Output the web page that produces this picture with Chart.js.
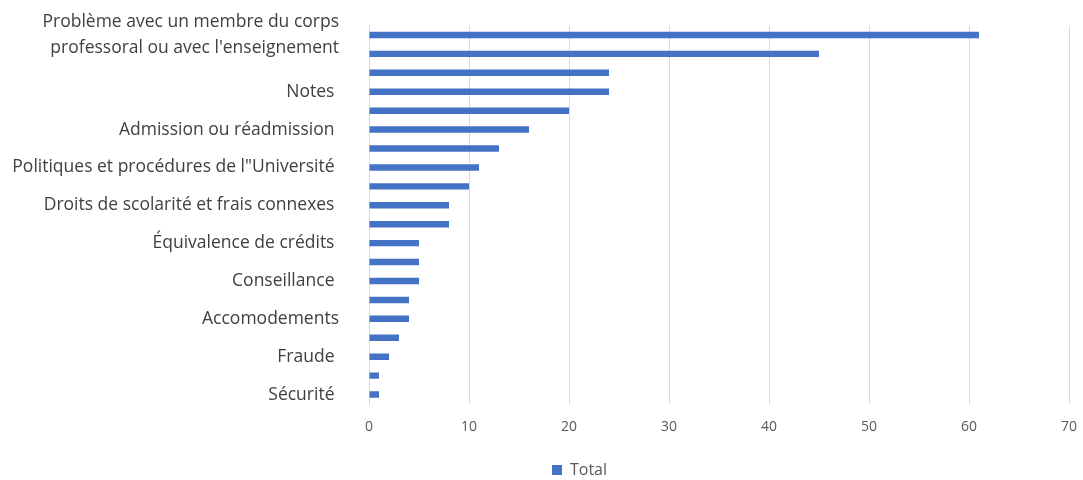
<!DOCTYPE html>
<html>
<head>
<meta charset="utf-8">
<script src="https://cdn.jsdelivr.net/npm/chart.js@4"></script>
<style>
  body { margin: 0; background: #fff; }
  #wrap { width: 1083px; height: 480px; }
</style>
</head>
<body>
<div id="wrap"><canvas id="motifsChart"></canvas></div>
<script>
// categories, top to bottom (only every other one is labelled on the picture)
var categories = [
    ['Problème avec un membre du corps', 'professoral ou avec l\'enseignement'],
    '', '', 'Notes ', '', 'Admission ou réadmission ', '',
    'Politiques et procédures de l"Université ', '', 'Droits de scolarité et frais connexes ',
    '', 'Équivalence de crédits ', '', 'Conseillance ', '', 'Accomodements',
    '', 'Fraude ', '', 'Sécurité '
];

// number of cases per category
var totals = [61, 45, 24, 24, 20, 16, 13, 11, 10, 8, 8, 5, 5, 5, 4, 4, 3, 2, 1, 1];

var xTicks = [0, 10, 20, 30, 40, 50, 60, 70];

var ctx = document.getElementById('motifsChart').getContext('2d');

// the legend sits a bit right of the centre in the original
var nudgeLegend = {
    id: 'nudgeLegend',
    afterLayout: function(chart) {
        chart.legend.left += 45;
        chart.legend.right += 45;
    }
};

new Chart(ctx, {
    type: 'bar',
    data: {
        labels: categories,
        datasets: [{
            label: 'Total',
            data: totals,
            backgroundColor: '#4472C4',
            borderWidth: 0,
            barPercentage: 0.34,
            categoryPercentage: 1
        }]
    },
    options: {
        indexAxis: 'y',
        responsive: true,
        maintainAspectRatio: false,
        animation: false,
        layout: { padding: { top: 25.5, right: 14, left: 0, bottom: -8 } },
        scales: {
            x: {
                min: xTicks[0],
                max: xTicks[xTicks.length - 1],
                afterBuildTicks: function(scale) {
                    scale.ticks = xTicks.map(function(v) { return { value: v }; });
                },
                afterFit: function(scale) {
                    scale.height = 57;
                    scale.paddingLeft = 0;
                    scale.paddingRight = 0;
                },
                grid: { color: '#d9d9d9', drawTicks: false },
                border: { display: false },
                ticks: {
                    color: '#595959',
                    padding: 15,
                    font: { family: 'Open Sans', size: 14 }
                }
            },
            y: {
                grid: { display: false, drawTicks: false },
                border: { color: '#d9d9d9' },
                afterFit: function(scale) {
                    scale.width = 369;
                    scale.paddingTop = 0;
                    scale.paddingBottom = 0;
                },
                ticks: {
                    autoSkip: false,
                    color: '#404040',
                    padding: 30,
                    font: { family: 'Open Sans', size: 17.5, lineHeight: 1.5 }
                }
            }
        },
        plugins: {
            legend: {
                position: 'bottom',
                labels: {
                    boxWidth: 10,
                    boxHeight: 10,
                    padding: 1,
                    color: '#595959',
                    font: { family: 'Open Sans', size: 16 }
                }
            },
            tooltip: { enabled: false }
        }
    },
    plugins: [nudgeLegend]
});
</script>
</body>
</html>
